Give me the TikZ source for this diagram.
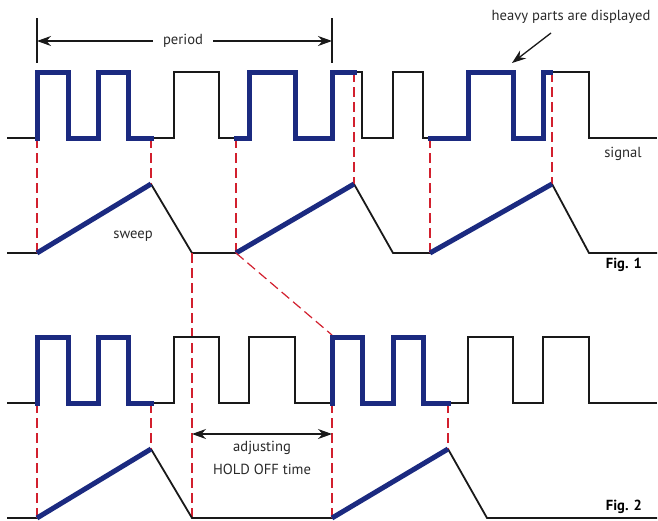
\documentclass[tikz,border=0pt]{standalone}
\usepackage{fontspec}
\setmainfont{PT Sans}
\usetikzlibrary{arrows.meta}
\definecolor{heavyblue}{HTML}{1B2A80}
\definecolor{trigred}{HTML}{D2202E}
\definecolor{labelgray}{HTML}{2A2A2A}
% the input pulse train, same for both figures
\newcommand{\pulsetrain}{(7,138) -- (37,138) -- (37,72) -- (68,72) -- (68,138)
  -- (98,138) -- (98,72) -- (128,72) -- (128,138) -- (174,138) -- (174,72)
  -- (219,72) -- (219,138) -- (249,138) -- (249,72) -- (295,72) -- (295,138)
  -- (332,138) -- (332,72) -- (362,72) -- (362,138) -- (393,138) -- (393,72)
  -- (423,72) -- (423,138) -- (468,138) -- (468,72) -- (513,72) -- (513,138)
  -- (543,138) -- (543,72) -- (589,72) -- (589,138) -- (657,138)}
\begin{document}
\begin{tikzpicture}[x=1pt,y=-1pt,
    sigline/.style={line width=1.8pt,black!90,line join=miter},
    heavyline/.style={line width=5pt,heavyblue,line join=miter},
    heavysig/.style={heavyline,line cap=rect},
    trigline/.style={line width=1.2pt,trigred,dash pattern=on 10pt off 5pt},
    dimarrow/.style={line width=1.3pt,black!90,
      {Stealth[length=14pt,width=10pt]}-{Stealth[length=14pt,width=10pt]}},
    lbl/.style={text=labelgray,font=\fontsize{14.6}{17}\selectfont,inner sep=1pt},
    figlbl/.style={text=black,font=\bfseries\fontsize{14.6}{17}\selectfont,inner sep=1pt}]
  \useasboundingbox (0,0) rectangle (658,520);

  % ---- Fig. 1 ----
  \draw [sigline] \pulsetrain;
  \draw [sigline] (7,253) -- (37,253) -- (151,184) -- (192,253) -- (236,253)
    -- (354,184) -- (393,253) -- (430,253) -- (552,184) -- (589,253) -- (657,253);
  % trigger points
  \draw [trigline] (37,138) -- (37,253);
  \draw [trigline] (151,138) -- (151,184);
  \draw [trigline] (236,138) -- (236,253);
  \draw [trigline] (354,72) -- (354,184);
  \draw [trigline] (430,138) -- (430,253);
  \draw [trigline] (552,72) -- (552,184);
  % displayed parts
  \draw [heavysig] (37,138) -- (37,72) -- (68,72) -- (68,138) -- (98,138)
    -- (98,72) -- (128,72) -- (128,138) -- (151,138);
  \draw [heavysig] (236,138) -- (249,138) -- (249,72) -- (295,72) -- (295,138)
    -- (332,138) -- (332,72) -- (354,72);
  \draw [heavysig] (430,138) -- (468,138) -- (468,72) -- (513,72) -- (513,138)
    -- (543,138) -- (543,72) -- (550,72);
  \draw [heavyline] (37,253) -- (151,184);
  \draw [heavyline] (236,253) -- (354,184);
  \draw [heavyline] (430,253) -- (552,184);

  % period
  \draw [sigline,line width=1.4pt] (37,18) -- (37,63);
  \draw [sigline,line width=1.4pt] (332,18) -- (332,63);
  \coordinate (perL) at (37,41);
  \coordinate (perR) at (332,41);
  \draw [dimarrow] (perL) -- (perR);
  \node [lbl,fill=white,inner xsep=10pt] (period) at (183,41) {period};

  \node [lbl] (heavy) at (571,17) {heavy parts are displayed};
  \coordinate (heavyTip) at (512,63);
  \draw [line width=1.3pt,black!90,-{Stealth[length=14pt,width=10pt]}]
    (551,33) -- (heavyTip);
  \node [lbl] (signal) at (623,154) {signal};
  \node [lbl] (sweep) at (133,236) {sweep};
  \node [figlbl,anchor=east] (fig1) at (643,265) {Fig. 1};

  % ---- between the figures ----
  \draw [trigline] (192,253) -- (192,518);
  \draw [trigline] (236,253) -- (332,335);

  % ---- Fig. 2 ----
  \begin{scope}[yshift=-265pt]
    \draw [sigline] \pulsetrain;
    \draw [sigline] (7,253) -- (37,253) -- (151,184) -- (192,253) -- (332,253)
      -- (448,184) -- (487,253) -- (657,253);
    \draw [trigline] (37,138) -- (37,253);
    \draw [trigline] (151,138) -- (151,184);
    \draw [trigline] (332,138) -- (332,253);
    \draw [trigline] (448,138) -- (448,184);
    \draw [heavysig] (37,138) -- (37,72) -- (68,72) -- (68,138) -- (98,138)
      -- (98,72) -- (128,72) -- (128,138) -- (151,138);
    \draw [heavysig] (332,138) -- (332,72) -- (362,72) -- (362,138) -- (393,138)
      -- (393,72) -- (423,72) -- (423,138) -- (448,138);
    \draw [heavyline] (37,253) -- (151,184);
    \draw [heavyline] (332,253) -- (448,184);
    % hold off
    \coordinate (holdL) at (192,169);
    \coordinate (holdR) at (332,169);
    \draw [dimarrow] (holdL) -- (holdR);
    \node [lbl] (adjust) at (262,183) {adjusting};
    \node [lbl] (holdoff) at (262,204) {HOLD OFF time};
    \node [figlbl,anchor=east] (fig2) at (643,242) {Fig. 2};
  \end{scope}
\end{tikzpicture}
\end{document}
